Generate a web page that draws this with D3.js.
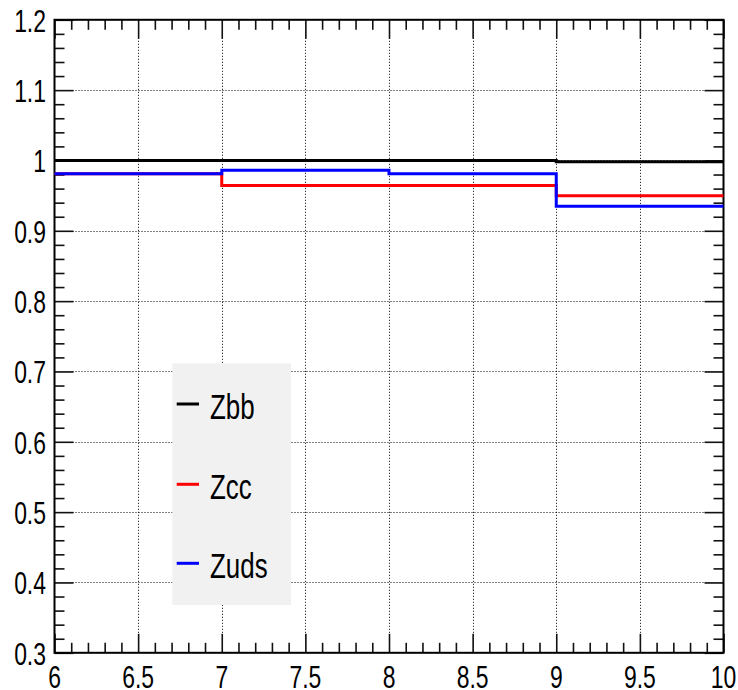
<!DOCTYPE html>
<html>
<head>
<meta charset="utf-8">
<script src="https://cdn.jsdelivr.net/npm/d3@7"></script>
<style>
  body { margin: 0; background: #fff; }
  text { font-family: "Liberation Sans", Arial, sans-serif; fill: #000; }
</style>
</head>
<body>
<div id="chart"></div>
<script>
// bin edges and per-bin values
const binEdges = [6, 7, 8, 9, 10];
const zbb = [1.0, 1.0, 1.0, 0.998];
const zcc = [0.981, 0.9645, 0.9645, 0.950];
const zuds = [0.981, 0.986, 0.981, 0.935];
const seriesNames = ["Zbb", "Zcc", "Zuds"];
const seriesColors = ["#000000", "#ff0000", "#0000ff"];
const xTicks = [6, 6.5, 7, 7.5, 8, 8.5, 9, 9.5, 10];
const yTicks = [0.3, 0.4, 0.5, 0.6, 0.7, 0.8, 0.9, 1, 1.1, 1.2];

const W = 738, H = 690;
const padL = 54.5, padR = 723.5, padT = 19.8, padB = 652.8;
const squeeze = 0.74; // glyphs look horizontally squeezed

const svg = d3.select("#chart").append("svg")
  .attr("width", W).attr("height", H);

const x = d3.scaleLinear().domain([6, 10]).range([padL, padR]);
const y = d3.scaleLinear().domain([0.3, 1.2]).range([padB, padT]);

// minor ticks
const xMinor = d3.range(6, 10.0001, 0.1).map(d => +d.toFixed(2)).filter(d => !xTicks.some(t => Math.abs(t - d) < 1e-6));
const yMinor = d3.range(0.3, 1.2001, 0.02).map(d => +d.toFixed(3)).filter(d => !yTicks.some(t => Math.abs(t - d) < 1e-6));

// grid
const grid = svg.append("g").attr("stroke", "#000").attr("stroke-width", 1).attr("stroke-dasharray", "1,2");
grid.selectAll(".gx").data(xTicks.slice(1, -1)).enter().append("line")
  .attr("x1", d => Math.round(x(d)) + 0.5).attr("x2", d => Math.round(x(d)) + 0.5)
  .attr("y1", padT).attr("y2", padB);
grid.selectAll(".gy").data(yTicks.slice(1, -1)).enter().append("line")
  .attr("y1", d => Math.round(y(d)) + 0.5).attr("y2", d => Math.round(y(d)) + 0.5)
  .attr("x1", padL).attr("x2", padR);

// legend box (drawn before the axes so the frame sits on top)
const lg = svg.append("g");
lg.append("rect").attr("x", 172.3).attr("y", 363.3).attr("width", 118.7).attr("height", 241.7)
  .attr("fill", "#f1f1f1");

// ticks on all four sides
function ticks(axis, vals, len) {
  return axis.tickValues(vals).tickSize(-len).tickFormat("");
}
const tickG = svg.append("g");
tickG.append("g").attr("transform", `translate(0,${padB})`).call(ticks(d3.axisBottom(x), xTicks, 19));
tickG.append("g").attr("transform", `translate(0,${padB})`).call(ticks(d3.axisBottom(x), xMinor, 10));
tickG.append("g").attr("transform", `translate(0,${padT})`).call(ticks(d3.axisTop(x), xTicks, 19));
tickG.append("g").attr("transform", `translate(0,${padT})`).call(ticks(d3.axisTop(x), xMinor, 10));
tickG.append("g").attr("transform", `translate(${padL},0)`).call(ticks(d3.axisLeft(y), yTicks, 19));
tickG.append("g").attr("transform", `translate(${padL},0)`).call(ticks(d3.axisLeft(y), yMinor, 10));
tickG.append("g").attr("transform", `translate(${padR},0)`).call(ticks(d3.axisRight(y), yTicks, 19));
tickG.append("g").attr("transform", `translate(${padR},0)`).call(ticks(d3.axisRight(y), yMinor, 10));
tickG.selectAll(".domain").remove();
tickG.selectAll(".tick line").attr("stroke", "#111").attr("stroke-width", 1.6);

// frame
svg.append("rect").attr("x", padL).attr("y", padT).attr("width", padR - padL).attr("height", padB - padT)
  .attr("fill", "none").attr("stroke", "#000").attr("stroke-width", 2);

// histograms as steps
const step = d3.line().x(d => x(d[0])).y(d => y(d[1])).curve(d3.curveStepAfter);
[zbb, zcc, zuds].forEach((vals, i) => {
  const pts = binEdges.map((e, j) => [e, vals[Math.min(j, vals.length - 1)]]);
  svg.append("path").attr("d", step(pts))
    .attr("fill", "none").attr("stroke", seriesColors[i]).attr("stroke-width", 3);
});

// tick labels
svg.append("g").selectAll("text").data(yTicks).enter().append("text")
  .attr("transform", d => `translate(46,${y(d) + 12}) scale(${squeeze},1)`)
  .attr("text-anchor", "end").attr("font-size", 31)
  .text(d => d3.format("")(d));
svg.append("g").selectAll("text").data(xTicks).enter().append("text")
  .attr("transform", d => `translate(${x(d)},688) scale(${squeeze},1)`)
  .attr("text-anchor", "middle").attr("font-size", 31)
  .text(d => d3.format("")(d));

// legend entries
const rowY = [404, 484.3, 563.3];
seriesNames.forEach((name, i) => {
  lg.append("line").attr("x1", 176.7).attr("x2", 199).attr("y1", rowY[i]).attr("y2", rowY[i])
    .attr("stroke", seriesColors[i]).attr("stroke-width", 3);
  lg.append("text").attr("transform", `translate(210,${rowY[i] + 15}) scale(0.72,1)`)
    .attr("font-size", 36).text(name);
});
</script>
</body>
</html>
